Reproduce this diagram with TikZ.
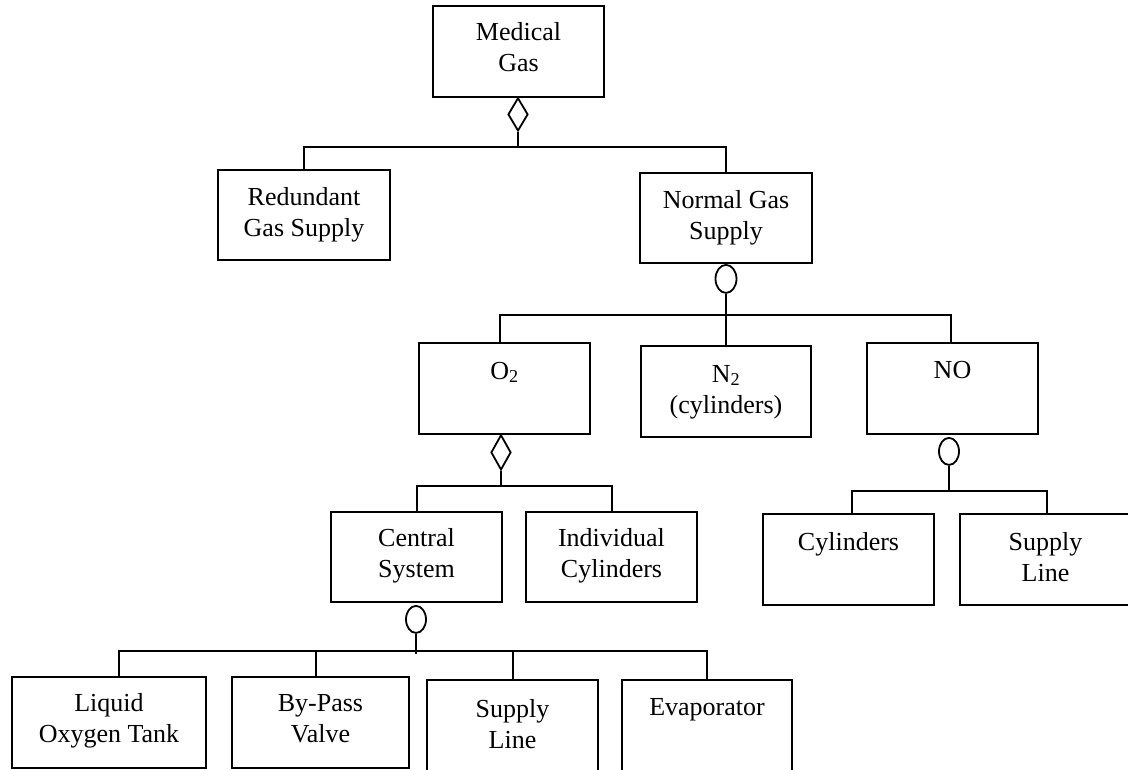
\documentclass[tikz,border=0pt]{standalone}
\usepackage{fontspec}
\setmainfont{Liberation Serif}
\usetikzlibrary{shapes.geometric,calc}
\tikzset{
  box/.style={draw, rectangle, inner sep=0pt, line width=1.8pt},
  lbl/.style={anchor=north, inner sep=0pt, align=center, font=\fontsize{26}{31}\selectfont},
  diam/.style={draw, diamond, inner sep=0pt, minimum width=20pt, minimum height=33pt, line width=1.8pt, fill=white},
  oval/.style={draw, ellipse, inner sep=0pt, minimum width=21pt, minimum height=28pt, line width=1.8pt, fill=white},
  conn/.style={line width=1.8pt}
}
\begin{document}
\begin{tikzpicture}[x=1pt,y=-1pt]
\useasboundingbox (0,0) rectangle (1128,769);
\fill[white] (0,0) rectangle (1128,769);
\clip (0,0) rectangle (1128,769);

% boxes
\node[box, minimum width=171pt, minimum height=91pt] (mg)  at (518.5,51.5) {};
\node[box, minimum width=172pt, minimum height=90pt] (rgs) at (304,215) {};
\node[box, minimum width=172pt, minimum height=90pt] (ngs) at (726,218) {};
\node[box, minimum width=171pt, minimum height=91pt] (o2)  at (504.5,388.5) {};
\node[box, minimum width=170pt, minimum height=91pt] (n2)  at (726,391.5) {};
\node[box, minimum width=171pt, minimum height=91pt] (no)  at (952.5,388.5) {};
\node[box, minimum width=171pt, minimum height=90pt] (cs)  at (416.5,557) {};
\node[box, minimum width=171pt, minimum height=90pt] (ic)  at (611.5,557) {};
\node[box, minimum width=171pt, minimum height=91pt] (cyl) at (848.5,559.5) {};
\node[box, minimum width=171pt, minimum height=91pt] (sl2) at (1045.5,559.5) {};
\node[box, minimum width=194pt, minimum height=91pt] (lot) at (109,722.5) {};
\node[box, minimum width=177pt, minimum height=91pt] (bpv) at (320.5,722.5) {};
\node[box, minimum width=171pt, minimum height=100pt] (sl1) at (512.5,730) {};
\node[box, minimum width=170pt, minimum height=100pt] (eva) at (707,730) {};

% labels
\node[lbl] (tmg)  at ($(mg.north)+(0,13)$)  {\strut Medical\\Gas};
\node[lbl] (trgs) at ($(rgs.north)+(0,14)$) {\strut Redundant\\Gas Supply};
\node[lbl] (tngs) at ($(ngs.north)+(0,14)$) {\strut Normal Gas\\Supply};
\node[lbl] (to2)  at ($(o2.north)+(0,15)$)  {\strut O\textsubscript{2}};
\node[lbl] (tn2)  at ($(n2.north)+(0,15)$)  {\strut N\textsubscript{2}\\(cylinders)};
\node[lbl] (tno)  at ($(no.north)+(0,14)$)  {\strut NO};
\node[lbl] (tcs)  at ($(cs.north)+(0,13)$)  {\strut Central\\System};
\node[lbl] (tic)  at ($(ic.north)+(0,13)$)  {\strut Individual\\Cylinders};
\node[lbl] (tcyl) at ($(cyl.north)+(0,15)$) {\strut Cylinders};
\node[lbl] (tsl2) at ($(sl2.north)+(0,15)$) {\strut Supply\\Line};
\node[lbl] (tlot) at ($(lot.north)+(0,13)$) {\strut Liquid\\Oxygen Tank};
\node[lbl] (tbpv) at ($(bpv.north)+(0,13)$) {\strut By-Pass\\Valve};
\node[lbl] (tsl1) at ($(sl1.north)+(0,16)$) {\strut Supply\\Line};
\node[lbl] (teva) at ($(eva.north)+(0,14)$) {\strut Evaporator};

% Medical Gas -> children (aggregation)
\node[diam, anchor=north] (dmg) at (518,97) {};
\coordinate (b1) at (518,147);
\draw[conn] (dmg.south) -- (b1);
\draw[conn] (rgs.north) |- (b1) -| (ngs.north);

% Normal Gas Supply -> children (optional)
\node[oval, anchor=north] (eng) at (726,264) {};
\coordinate (b2) at (726,315);
\coordinate (o2top) at ($(o2.north)+(-4.5,0)$);
\coordinate (notop) at ($(no.north)+(-1.5,0)$);
\draw[conn] (eng.south) -- (b2);
\draw[conn] (o2top) |- (b2) -| (notop);
\draw[conn] (b2) -- (n2.north);

% O2 -> children (aggregation)
\node[diam, anchor=north, minimum height=35pt] (do2) at (501,434) {};
\coordinate (b3) at (501,486);
\coordinate (cstop) at ($(cs.north)+(0.5,0)$);
\coordinate (ictop) at ($(ic.north)+(0.5,0)$);
\draw[conn] (do2.south) -- (b3);
\draw[conn] (cstop) |- (b3) -| (ictop);

% Central System -> children (optional)
\node[oval, anchor=north, minimum width=20pt, minimum height=27pt] (ecs) at (416,605) {};
\coordinate (b4) at (416,651);
\coordinate (b4low) at (416,654);
\coordinate (lottop) at ($(lot.north)+(10,0)$);
\coordinate (bpvtop) at ($(bpv.north)+(-4.5,0)$);
\coordinate (sl1top) at ($(sl1.north)+(0.5,0)$);
\draw[conn] (ecs.south) -- (b4low);
\draw[conn] (lottop) |- (b4) -| (eva.north);
\draw[conn] (bpvtop) -- (bpvtop |- b4);
\draw[conn] (sl1top) -- (sl1top |- b4);

% NO -> children (optional)
\node[oval, anchor=north, minimum width=20pt, minimum height=27pt] (eno) at (949,437) {};
\coordinate (b5) at (949,491);
\coordinate (cyltop) at ($(cyl.north)+(3.5,0)$);
\coordinate (sl2top) at ($(sl2.north)+(1.5,0)$);
\draw[conn] (eno.south) -- (b5);
\draw[conn] (cyltop) |- (b5) -| (sl2top);
\end{tikzpicture}
\end{document}
